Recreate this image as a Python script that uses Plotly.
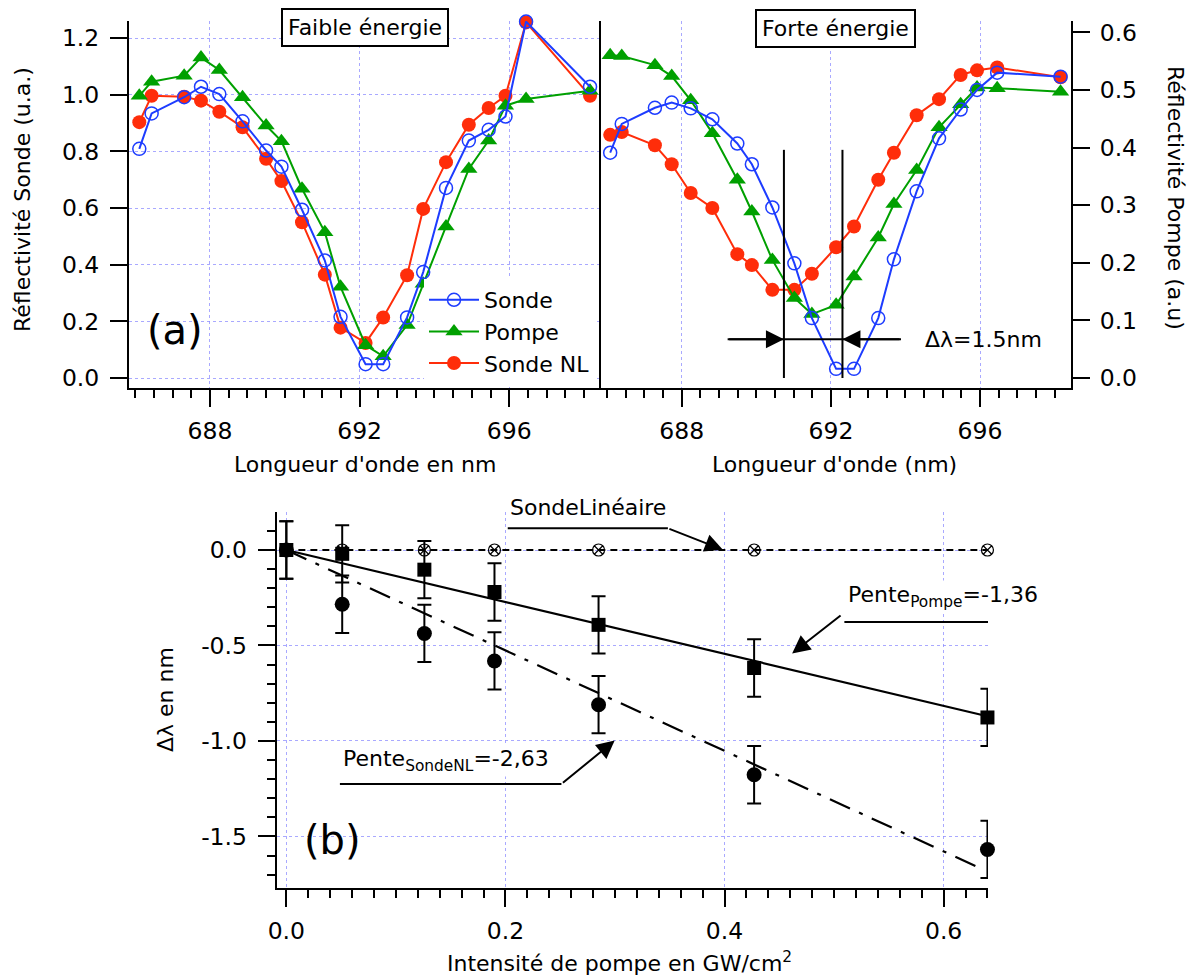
import plotly.graph_objects as go

# ---------------- data : panel (a) ----------------
wl_low = [686.11, 686.44, 687.31, 687.76, 688.25, 688.87, 689.50, 689.91, 690.46, 691.07, 691.49,
          692.16, 692.63, 693.27, 693.70, 694.31, 694.92, 695.45, 695.90, 696.45, 698.16]
sonde_low = [0.809, 0.934, 0.991, 1.028, 1.002, 0.906, 0.803, 0.746, 0.594, 0.415, 0.216,
             0.049, 0.049, 0.214, 0.374, 0.671, 0.838, 0.876, 0.923, 1.258, 1.028]
pompe_low = [0.996, 1.046, 1.067, 1.131, 1.087, 0.991, 0.891, 0.836, 0.668, 0.515, 0.322,
             0.116, 0.077, 0.187, 0.333, 0.535, 0.738, 0.838, 0.961, 0.985, 1.014]
nl_low = [0.903, 0.996, 0.993, 0.979, 0.940, 0.885, 0.774, 0.695, 0.550, 0.365, 0.178,
          0.124, 0.214, 0.363, 0.597, 0.762, 0.894, 0.953, 0.996, 1.255, 0.996]

wl_high = [686.08, 686.39, 687.28, 687.73, 688.24, 688.82, 689.49, 689.88, 690.43, 691.02, 691.49,
           692.14, 692.62, 693.27, 693.69, 694.30, 694.90, 695.48, 695.92, 696.46, 698.16]
sonde_high = [0.391, 0.441, 0.469, 0.478, 0.468, 0.449, 0.407, 0.371, 0.296, 0.199, 0.104,
              0.016, 0.016, 0.104, 0.206, 0.324, 0.416, 0.466, 0.500, 0.530, 0.523]
pompe_high = [0.560, 0.559, 0.543, 0.524, 0.482, 0.425, 0.344, 0.289, 0.205, 0.139, 0.111,
              0.127, 0.176, 0.244, 0.302, 0.361, 0.435, 0.475, 0.504, 0.503, 0.497]
nl_high = [0.422, 0.427, 0.404, 0.371, 0.321, 0.295, 0.215, 0.196, 0.153, 0.153, 0.181,
           0.227, 0.263, 0.344, 0.391, 0.456, 0.484, 0.526, 0.534, 0.539, 0.522]

# delta lambda markers (nm)
dl_left = 690.74
dl_right = 692.31

# ---------------- data : panel (b) ----------------
intensity = [0.0, 0.051, 0.126, 0.190, 0.285, 0.427, 0.640]
shift_lin = [0.0, 0.0, 0.0, 0.0, 0.0, 0.0, 0.0]
shift_pompe = [0.0, -0.02, -0.103, -0.22, -0.392, -0.618, -0.877]
shift_nl = [0.0, -0.284, -0.437, -0.581, -0.81, -1.177, -1.568]
err = [0.15] * 7
slope_pompe = -1.36
slope_nl = -2.63
fit_x_pompe = [0.0, 0.64]
fit_x_nl = [0.0, 0.63]
b_yticks = [0, -0.5, -1.0, -1.5]
b_yticktext = ["0.0", "-0.5", "-1.0", "-1.5"]

# ---------------- styling ----------------
OFF = 8                      # page body margin
W, H = 1198 - OFF, 978 - OFF
FONT = "DejaVu Sans"
FS = 22
TFS = 23.5
BLUE = "#1d3cff"
GREEN = "#00a000"
RED = "#ff2d0a"
GRID = "rgba(140,140,255,0.75)"


def px(x):
    return (x - OFF) / W


def py(y):
    return 1 - (y - OFF) / H


fig = go.Figure()

# panel (a) left  (x / y)
fig.add_trace(go.Scatter(x=wl_low, y=nl_low, name="Sonde NL", mode="lines+markers",
                         line=dict(color=RED, width=2), marker=dict(symbol="circle", size=14, color=RED),
                         xaxis="x", yaxis="y", legendrank=3, cliponaxis=False, legendgroup="c"))
fig.add_trace(go.Scatter(x=wl_low, y=pompe_low, name="Pompe", mode="lines+markers",
                         line=dict(color=GREEN, width=2), marker=dict(symbol="triangle-up", size=15, color=GREEN),
                         xaxis="x", yaxis="y", legendrank=2, cliponaxis=False, legendgroup="b"))
fig.add_trace(go.Scatter(x=wl_low, y=sonde_low, name="Sonde", mode="lines+markers",
                         line=dict(color=BLUE, width=2),
                         marker=dict(symbol="circle-open", size=13, color=BLUE, line=dict(width=1.5)),
                         xaxis="x", yaxis="y", legendrank=1, cliponaxis=False, legendgroup="a"))

# panel (a) right (x2 / y3)
fig.add_trace(go.Scatter(x=wl_high, y=nl_high, mode="lines+markers", showlegend=False,
                         line=dict(color=RED, width=2), marker=dict(symbol="circle", size=14, color=RED),
                         xaxis="x2", yaxis="y3", cliponaxis=False))
fig.add_trace(go.Scatter(x=wl_high, y=pompe_high, mode="lines+markers", showlegend=False,
                         line=dict(color=GREEN, width=2), marker=dict(symbol="triangle-up", size=15, color=GREEN),
                         xaxis="x2", yaxis="y3", cliponaxis=False))
fig.add_trace(go.Scatter(x=wl_high, y=sonde_high, mode="lines+markers", showlegend=False,
                         line=dict(color=BLUE, width=2),
                         marker=dict(symbol="circle-open", size=13, color=BLUE, line=dict(width=1.5)),
                         xaxis="x2", yaxis="y3", cliponaxis=False))

# panel (b) (x3 / y4)
fig.add_trace(go.Scatter(x=intensity, y=shift_lin, mode="lines+markers", showlegend=False,
                         line=dict(color="black", width=2, dash="7px,5px"),
                         marker=dict(symbol="circle-x-open", size=12, color="black", line=dict(width=1.2)),
                         xaxis="x3", yaxis="y4", cliponaxis=False))
fig.add_trace(go.Scatter(x=fit_x_pompe, y=[slope_pompe * v for v in fit_x_pompe], mode="lines",
                         showlegend=False, line=dict(color="black", width=2.2),
                         xaxis="x3", yaxis="y4"))
fig.add_trace(go.Scatter(x=fit_x_nl, y=[slope_nl * v for v in fit_x_nl], mode="lines",
                         showlegend=False, line=dict(color="black", width=2.2, dash="22px,10px,4px,10px"),
                         xaxis="x3", yaxis="y4"))
fig.add_trace(go.Scatter(x=intensity, y=shift_pompe, mode="markers", showlegend=False,
                         marker=dict(symbol="square", size=14, color="black"),
                         error_y=dict(type="data", array=err, color="black", thickness=2, width=7),
                         xaxis="x3", yaxis="y4", cliponaxis=False))
fig.add_trace(go.Scatter(x=intensity, y=shift_nl, mode="markers", showlegend=False,
                         marker=dict(symbol="circle", size=15, color="black"),
                         error_y=dict(type="data", array=err, color="black", thickness=2, width=7),
                         xaxis="x3", yaxis="y4", cliponaxis=False))

axis_common = dict(showline=True, linecolor="black", linewidth=2, ticks="outside", ticklen=17,
                   tickwidth=2, tickcolor="black", zeroline=False, automargin=False,
                   tickfont=dict(family=FONT, size=TFS, color="black"),
                   showgrid=True, gridcolor=GRID, gridwidth=1, griddash="dot")

minor_top = dict(dtick=0.5, tick0=686, ticks="outside", ticklen=8, tickwidth=2,
                 tickcolor="black", showgrid=False)

top_dom = [py(388), py(21)]
fig.update_layout(
    template="none",
    width=W, height=H, margin=dict(l=0, r=0, t=0, b=0, pad=0, autoexpand=False),
    paper_bgcolor="white", plot_bgcolor="white",
    font=dict(family=FONT, size=FS, color="black"),
    xaxis=dict(domain=[px(129), px(599)], range=[685.835, 698.40], anchor="y",
               tickvals=[688, 692, 696], minor=minor_top, ticklabelstandoff=4, **axis_common),
    yaxis=dict(domain=top_dom, range=[-0.035, 1.26], anchor="x", mirror=True,
               tickvals=[0, 0.2, 0.4, 0.6, 0.8, 1.0, 1.2], tickformat=".1f", ticklabelstandoff=6,
               **axis_common),
    xaxis2=dict(domain=[px(599), px(1071)], range=[685.78, 698.44], anchor="y2",
                tickvals=[688, 692, 696], minor=minor_top, ticklabelstandoff=4, **axis_common),
    yaxis2=dict(domain=top_dom, range=[-0.035, 1.26], anchor="x2", showline=False, ticks="",
                showticklabels=False, showgrid=True, gridcolor=GRID, gridwidth=1, griddash="dot",
                zeroline=False, automargin=False, tickvals=[0, 0.2, 0.4, 0.6, 0.8, 1.0, 1.2]),
    yaxis3=dict(domain=top_dom, range=[-0.0173, 0.6196], anchor="x2", overlaying="y2", side="right",
                tickvals=[0, 0.1, 0.2, 0.3, 0.4, 0.5, 0.6], tickformat=".1f", ticklabelstandoff=5,
                **{**axis_common, "showgrid": False}),
    xaxis3=dict(domain=[px(276.7), px(988)], range=[-0.0088, 0.6405], anchor="y4",
                tickvals=[0, 0.2, 0.4, 0.6], tickformat=".1f",
                minor=dict(dtick=0.02, tick0=0, ticks="outside", ticklen=8, tickwidth=2,
                           tickcolor="black", showgrid=False),
                ticklabelstandoff=4, **axis_common),
    yaxis4=dict(domain=[py(888), py(512)], range=[-1.77, 0.199], anchor="x3",
                tickmode="array", tickvals=b_yticks, ticktext=b_yticktext,
                minor=dict(dtick=0.1, tick0=0, ticks="outside", ticklen=8, tickwidth=2,
                           tickcolor="black", showgrid=False),
                ticklabelstandoff=6, **axis_common),
    legend=dict(x=px(424), y=py(279), xanchor="left", yanchor="top", bgcolor="white",
                font=dict(family=FONT, size=FS), tracegroupgap=0, itemwidth=50),
    showlegend=True,
)

ann = []


def text(x, y, s, size=FS, angle=0, **kw):
    ann.append(dict(x=px(x), y=py(y), xref="paper", yref="paper", text=s, showarrow=False,
                    xanchor="center", yanchor="middle",
                    textangle=angle, font=dict(family=FONT, size=size, color="black"), **kw))


# axis titles
text(23, 200, "Réflectivité Sonde (u.a.)", angle=-90)
text(1175, 198, "Réflectivité Pompe (a.u)", angle=90)
text(365, 464, "Longueur d'onde en nm")
text(834, 464, "Longueur d'onde (nm)")
text(165, 700, "Δλ en nm", angle=-90)
text(620, 962, "Intensité de pompe en GW/cm<sup>2</sup>")

# boxes and labels
text(365, 27.5, "Faible énergie", bordercolor="black", borderwidth=2, borderpad=5, bgcolor="white")
text(835.5, 28.5, "Forte énergie", bordercolor="black", borderwidth=2, borderpad=5, bgcolor="white")
text(175, 330, "(a)", size=40)
text(333, 840, "(b)", size=40)
text(983, 339, "Δλ=1.5nm")
text(588, 508, "SondeLinéaire", bgcolor="white")

# panel b slope labels (data coordinates)
ann.append(dict(x=0.599, y=-0.246, xref="x3", yref="y4", text="Pente<sub>Pompe</sub>=-1,36",
                xanchor="center", yanchor="middle",
                showarrow=False, font=dict(family=FONT, size=FS, color="black"), bgcolor="white"))
ann.append(dict(x=0.1454, y=-1.10, xref="x3", yref="y4", text="Pente<sub>SondeNL</sub>=-2,63",
                xanchor="center", yanchor="middle",
                showarrow=False, font=dict(family=FONT, size=FS, color="black"), bgcolor="white"))

# arrows panel b
for tip, tail in [((0.3985, 0.001), (0.3483, 0.1138)),
                  ((0.4617, -0.5418), (0.5073, -0.3366)),
                  ((0.2997, -0.998), (0.2511, -1.2255))]:
    ann.append(dict(x=tip[0], y=tip[1], ax=tail[0], ay=tail[1], xref="x3", yref="y4",
                    axref="x3", ayref="y4", text="", showarrow=True, arrowhead=2, arrowsize=1.8,
                    arrowwidth=2, arrowcolor="black", standoff=0))

# arrows delta lambda
for tip, tail in [(dl_left, 689.23), (dl_right, 693.88)]:
    ann.append(dict(x=tip, y=0.0675, ax=tail, ay=0.0675, xref="x2", yref="y3", axref="x2", ayref="y3",
                    text="", showarrow=True, arrowhead=2, arrowsize=1.8, arrowwidth=2,
                    arrowcolor="black", standoff=0))

shapes = [
    dict(type="line", xref="x2", yref="y3", x0=dl_left, x1=dl_left, y0=0, y1=0.396,
         line=dict(color="black", width=2)),
    dict(type="line", xref="x2", yref="y3", x0=dl_right, x1=dl_right, y0=0, y1=0.396,
         line=dict(color="black", width=2)),
    dict(type="line", xref="x2", yref="y3", x0=689.23, x1=693.88, y0=0.0675, y1=0.0675,
         line=dict(color="black", width=2)),
    dict(type="line", xref="x3", yref="y4", x0=0.2021, x1=0.3483, y0=0.1138, y1=0.1138,
         line=dict(color="black", width=2)),
    dict(type="line", xref="x3", yref="y4", x0=0.5094, x1=0.6900, y0=-0.3768, y1=-0.3768,
         line=dict(color="black", width=2)),
    dict(type="line", xref="x3", yref="y4", x0=0.0489, x1=0.2511, y0=-1.2255, y1=-1.2255,
         line=dict(color="black", width=2)),
]

fig.update_layout(annotations=ann, shapes=shapes)
fig.write_html("out.html")
